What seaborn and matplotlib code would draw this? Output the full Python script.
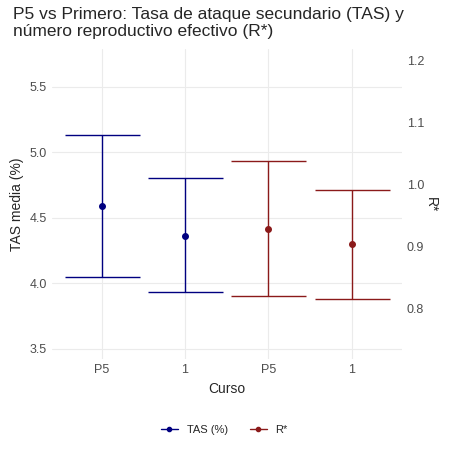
import matplotlib
matplotlib.use("Agg")
import matplotlib.pyplot as plt
import seaborn as sns
from matplotlib.lines import Line2D

sns.set_theme(style="whitegrid")
plt.rcParams['font.family'] = ['Liberation Sans', 'DejaVu Sans']

cursos = ["P5", "1", "P5", "1"]
tas_mean = [4.59, 4.36]
tas_low = [4.05, 3.93]
tas_high = [5.13, 4.80]
r_mean = [0.929, 0.904]
r_low = [0.820, 0.816]
r_high = [1.039, 0.992]

blue = "#000080"
red = "#8B1A1A"

fig, ax = plt.subplots(figsize=(4.49, 4.49), dpi=100)
fig.subplots_adjust(left=0.115, right=0.895, top=0.89, bottom=0.2)
ax2 = ax.twinx()

for i in range(2):
    ax.errorbar(i, tas_mean[i], yerr=[[tas_mean[i] - tas_low[i]], [tas_high[i] - tas_mean[i]]],
                fmt='o', color=blue, ms=4, capsize=27, lw=1, capthick=1)
    ax2.errorbar(i + 2, r_mean[i], yerr=[[r_mean[i] - r_low[i]], [r_high[i] - r_mean[i]]],
                 fmt='o', color=red, ms=4, capsize=27, lw=1, capthick=1)

ax.set_ylim(3.42, 5.785)
ax2.set_ylim(0.719, 1.218)
ax.set_xlim(-0.6, 3.6)
ax.set_xticks(range(4))
ax.set_xticklabels(cursos)
ax.set_yticks([3.5, 4.0, 4.5, 5.0, 5.5])
ax2.set_yticks([0.8, 0.9, 1.0, 1.1, 1.2])
ax2.grid(False)
ax2.yaxis.set_major_formatter(matplotlib.ticker.FormatStrFormatter('%.1f'))
for a in (ax, ax2):
    for s in a.spines.values():
        s.set_visible(False)
    a.tick_params(labelsize=9, colors="#4d4d4d", length=0)
ax.grid(color="#ebebeb", lw=0.8)
ax.set_xlabel("Curso", fontsize=10)
ax.set_ylabel("TAS media (%)", fontsize=10)
ax2.set_ylabel("R*", fontsize=10, rotation=-90, labelpad=10)

fig.text(0.03, 0.985, "P5 vs Primero: Tasa de ataque secundario (TAS) y\nnúmero reproductivo efectivo (R*)",
         ha="left", va="top", fontsize=12.5)

handles = [Line2D([], [], color=blue, marker='o', ms=3, lw=1),
           Line2D([], [], color=red, marker='o', ms=3, lw=1)]
fig.legend(handles, ["TAS (%)", "R*"], loc="lower center", ncol=2, frameon=False,
           fontsize=8, bbox_to_anchor=(0.5, 0.01), handlelength=1.5)

fig.savefig("out.png", dpi=100)
